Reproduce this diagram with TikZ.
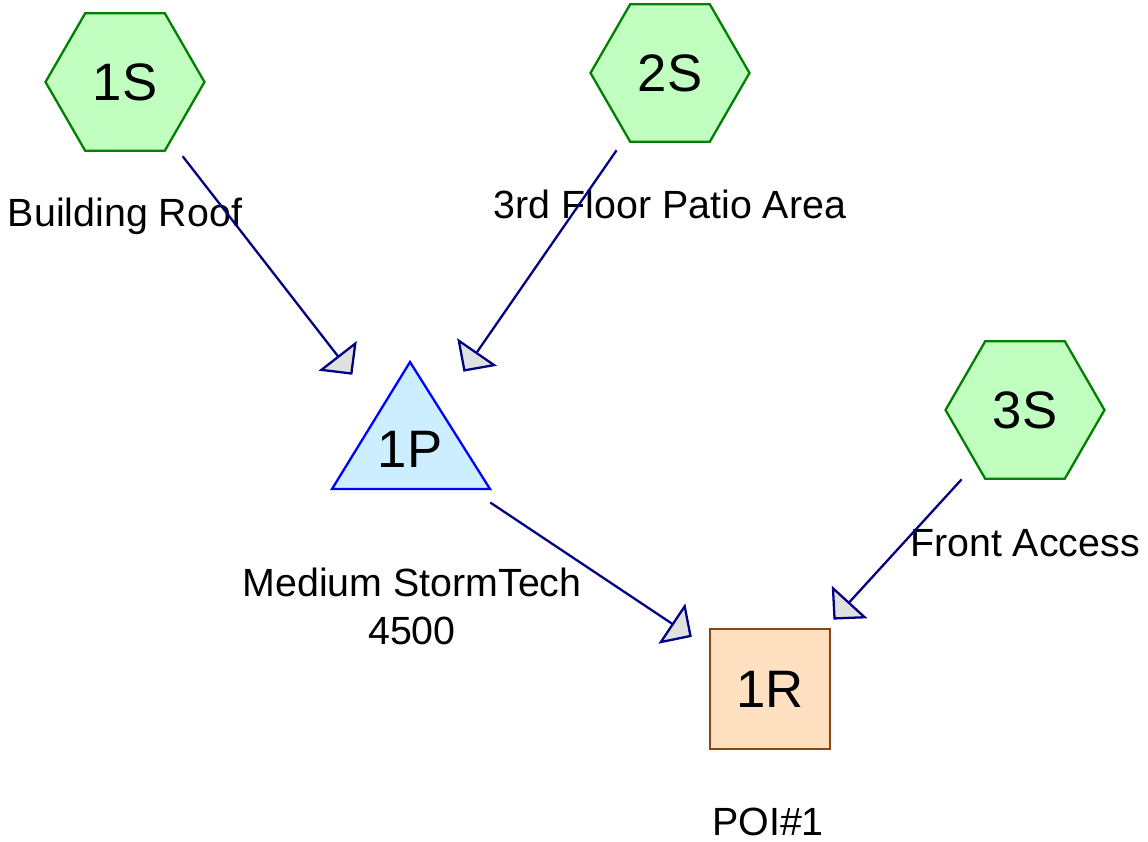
\documentclass[tikz,border=0pt]{standalone}
\usepackage{fontspec}
\setmainfont{Liberation Sans}
\usetikzlibrary{shapes.geometric,arrows.meta}

\definecolor{hexfill}{HTML}{C0FFC0}
\definecolor{hexline}{HTML}{008000}
\definecolor{pondfill}{HTML}{CCEEFF}
\definecolor{pondline}{HTML}{0000FF}
\definecolor{reachfill}{HTML}{FFE0C0}
\definecolor{reachline}{HTML}{8B4513}
\definecolor{linkcol}{HTML}{000080}
\definecolor{tipfill}{HTML}{E0E0E0}

\begin{document}
\begin{tikzpicture}[x=0.02cm,y=-0.02cm,line width=1.3pt,
  sub/.style={regular polygon,regular polygon sides=6,minimum size=3.18cm,inner sep=0pt,draw=hexline,fill=hexfill,font=\fontsize{30}{36}\selectfont},
  reach/.style={rectangle,minimum size=2.4cm,inner sep=0pt,draw=reachline,fill=reachfill,font=\fontsize{30}{36}\selectfont},
  lbl/.style={anchor=base,font=\fontsize{22.4}{27}\selectfont},
  link/.style={draw=linkcol,-{Triangle[length=0.48cm,width=0.96cm,fill=tipfill]},shorten <=1.88cm,shorten >=1.88cm}]
\useasboundingbox (0,0) rectangle (1148,841);

\node (S1)[sub] at (125,82) {1S};
\node (S2)[sub] at (670,73) {2S};
\node (S3)[sub] at (1025,410) {3S};

\draw[draw=pondline,fill=pondfill] (410,362) -- (332,489) -- (490,489) -- cycle;
\node (P1)[font=\fontsize{30}{36}\selectfont] at (410,449) {1P};

\node (R1)[reach] at (770,689) {1R};

\node (L1)[lbl] at (125,226) {Building Roof};
\node (L2)[lbl] at (670,218) {3rd Floor Patio Area};
\node (L3)[lbl] at (1025,556) {Front Access};
\node (L4)[lbl,anchor=center,align=center,font=\fontsize{22.4}{27.4}\selectfont] at (412,606) {Medium StormTech\\4500};
\node (L5)[lbl] at (768,835) {POI\#1};

\draw[link] (S1.center) -- (P1.center);
\draw[link] (S2.center) -- (P1.center);
\draw[link,shorten <=1.93cm] (P1.center) -- (R1.center);
\draw[link] (S3.center) -- (R1.center);
\end{tikzpicture}
\end{document}
